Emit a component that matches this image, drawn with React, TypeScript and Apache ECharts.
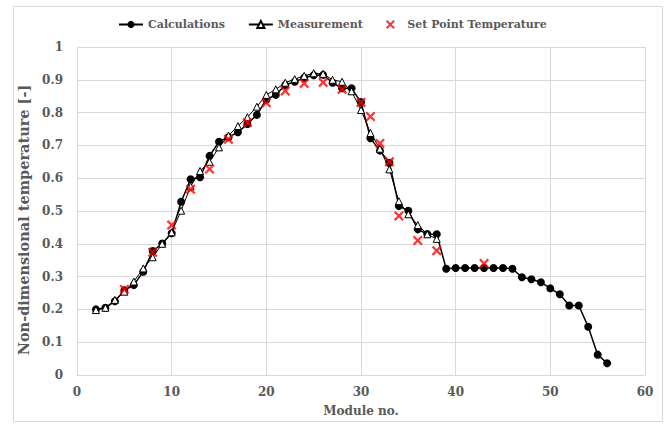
import React, { useEffect, useRef } from "react";
import * as echarts from "echarts";

const calcModules = [2, 3, 4, 5, 6, 7, 8, 9, 10, 11, 12, 13, 14, 15, 16, 17, 18, 19, 20, 21, 22, 23, 24, 25, 26, 27, 28, 29, 30, 31, 32, 33, 34, 35, 36, 37, 38, 39, 40, 41, 42, 43, 44, 45, 46, 47, 48, 49, 50, 51, 52, 53, 54, 55, 56];
const calcValues = [0.2, 0.205, 0.225, 0.258, 0.274, 0.315, 0.378, 0.401, 0.432, 0.528, 0.597, 0.603, 0.668, 0.711, 0.725, 0.74, 0.765, 0.793, 0.84, 0.854, 0.884, 0.894, 0.906, 0.914, 0.915, 0.891, 0.874, 0.874, 0.832, 0.722, 0.684, 0.647, 0.515, 0.501, 0.444, 0.43, 0.429, 0.324, 0.326, 0.326, 0.326, 0.326, 0.326, 0.326, 0.324, 0.298, 0.292, 0.283, 0.264, 0.246, 0.212, 0.212, 0.147, 0.062, 0.036];

const measModules = [2, 3, 4, 5, 6, 7, 8, 9, 10, 11, 12, 13, 14, 15, 16, 17, 18, 19, 20, 21, 22, 23, 24, 25, 26, 27, 28, 29, 30, 31, 32, 33, 34, 35, 36, 37, 38];
const measValues = [0.198, 0.205, 0.229, 0.254, 0.285, 0.325, 0.359, 0.4, 0.435, 0.501, 0.575, 0.622, 0.65, 0.694, 0.73, 0.759, 0.786, 0.818, 0.854, 0.871, 0.891, 0.902, 0.912, 0.92, 0.918, 0.9, 0.894, 0.865, 0.808, 0.738, 0.69, 0.627, 0.53, 0.49, 0.457, 0.429, 0.415];

const setModules = [5, 8, 10, 12, 14, 16, 18, 20, 22, 24, 26, 28, 30, 31, 32, 33, 34, 36, 38, 43];
const setValues = [0.261, 0.374, 0.457, 0.566, 0.628, 0.719, 0.77, 0.83, 0.866, 0.889, 0.892, 0.871, 0.831, 0.788, 0.706, 0.65, 0.485, 0.41, 0.379, 0.34];

const seriesNames = ["Calculations", "Measurement", "Set Point Temperature"];

const FONT = "'DejaVu Serif', serif";
const GRAY = "#595959";
const GRID = "#d9d9d9";
const CROSS = "path://M0,1.6L1.6,0L5,3.4L8.4,0L10,1.6L6.6,5L10,8.4L8.4,10L5,6.6L1.6,10L0,8.4L3.4,5Z";

const pairs = (xs: number[], ys: number[]) => xs.map((x, i) => [x, ys[i]]);

export default function App() {
  const ref = useRef<HTMLDivElement>(null);
  useEffect(() => {
    if (!ref.current) return;
    const chart = echarts.init(ref.current, undefined, { renderer: "svg" });
    const labelStyle = { color: GRAY, fontFamily: FONT, fontWeight: "bold" as const, fontSize: 12 };
    chart.setOption({
      animation: false,
      backgroundColor: "#fff",
      graphic: [
        {
          type: "rect",
          shape: { x: 13.5, y: 6.5, width: 649, height: 415 },
          style: { fill: "none", stroke: GRID, lineWidth: 1 },
          silent: true,
        },
      ],
      legend: {
        top: 14,
        left: 113,
        itemGap: 23,
        itemWidth: 24,
        itemHeight: 9,
        textStyle: { ...labelStyle, fontSize: 11 },
        data: seriesNames,
      },
      grid: { left: 77, right: 23, top: 47, bottom: 53 },
      xAxis: {
        type: "value",
        min: 0,
        max: 60,
        interval: 10,
        name: "Module no.",
        nameLocation: "middle",
        nameGap: 30,
        nameTextStyle: labelStyle,
        axisLine: { show: true, lineStyle: { color: GRID } },
        axisTick: { show: false },
        axisLabel: { ...labelStyle, margin: 11 },
        splitLine: { show: true, lineStyle: { color: GRID } },
      },
      yAxis: {
        type: "value",
        min: 0,
        max: 1,
        interval: 0.1,
        name: "Non-dimensional temperature [-]",
        nameLocation: "middle",
        nameGap: 43,
        nameTextStyle: { ...labelStyle, fontSize: 14.5, padding: [0, 18, 0, 0] },
        axisLine: { show: true, lineStyle: { color: GRID } },
        axisTick: { show: false },
        axisLabel: { ...labelStyle, margin: 14, formatter: (v: number) => String(+v.toFixed(1)) },
        splitLine: { show: true, lineStyle: { color: GRID } },
      },
      series: [
        {
          name: seriesNames[0],
          type: "line",
          data: pairs(calcModules, calcValues),
          symbol: "circle",
          symbolSize: 8,
          lineStyle: { color: "#000", width: 1.5 },
          itemStyle: { color: "#000" },
          z: 2,
        },
        {
          name: seriesNames[1],
          type: "line",
          data: pairs(measModules, measValues),
          symbol: "triangle",
          symbolSize: 7,
          lineStyle: { color: "#000", width: 1 },
          itemStyle: { color: "#fff", borderColor: "#000", borderWidth: 1 },
          z: 3,
        },
        {
          name: seriesNames[2],
          type: "scatter",
          data: pairs(setModules, setValues),
          symbol: CROSS,
          symbolSize: 10,
          itemStyle: { color: "#ff0000" },
          z: 4,
        },
      ],
    });
    return () => chart.dispose();
  }, []);
  return <div ref={ref} style={{ position: "absolute", left: 0, top: 0, width: 668, height: 428 }} />;
}
